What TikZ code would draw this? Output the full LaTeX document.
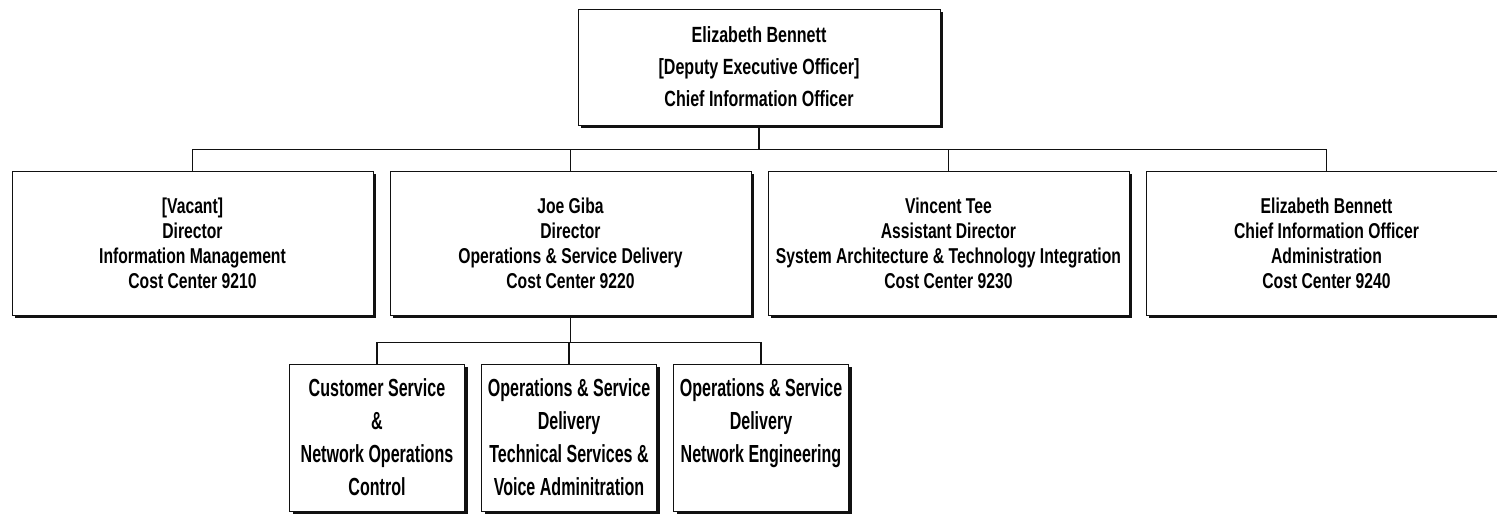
\documentclass[tikz,border=0pt]{standalone}
\usepackage{fontspec}
\setmainfont{Liberation Sans}[FakeStretch=0.65]
\newfontfamily\headfont{Liberation Sans}[FakeStretch=0.73]
\usepackage{tikz}
\usetikzlibrary{positioning,shadows}
\definecolor{ink}  {HTML}{111111}
\definecolor{paper}{HTML}{FFFFFF}

\begin{document}
\begin{tikzpicture}[x=1pt,y=1pt,
    unit/.style={draw=ink,line width=1pt,fill=paper,align=center,inner sep=2pt,
      drop shadow={shadow xshift=3pt,shadow yshift=-3pt,fill=ink,opacity=1}},
    chief/.style={unit,minimum width=362pt,minimum height=116pt,
      font=\headfont\bfseries\fontsize{22}{32}\selectfont},
    dept/.style={unit,minimum width=361pt,minimum height=144pt,
      font=\headfont\bfseries\fontsize{21.5}{25}\selectfont},
    team/.style={unit,minimum width=175pt,minimum height=147pt,
      font=\bfseries\fontsize{24.7}{33}\selectfont},
    link/.style={draw=ink,line width=1.5pt}]
  \useasboundingbox (0,0) rectangle (1497,-514);

  % top of the chart
  \node[chief] (cio) at (759,-67)
    {Elizabeth Bennett\\{[}Deputy Executive Officer{]}\\Chief Information Officer};

  % cost centers
  \node[dept] (im) at (192.5,-243)
    {{[}Vacant{]}\\Director\\Information Management\\Cost Center 9210};
  \node[dept,right=16pt of im] (osd)
    {Joe Giba\\Director\\Operations \& Service Delivery\\Cost Center 9220};
  \node[dept,right=16pt of osd] (sati)
    {Vincent Tee\\Assistant Director\\System Architecture \& Technology Integration\\Cost Center 9230};
  \node[dept,right=16pt of sati] (adm)
    {Elizabeth Bennett\\Chief Information Officer\\Administration\\Cost Center 9240};

  % units under operations
  \node[team] (noc) at (377,-437.5)
    {Customer Service\\\&\\Network Operations\\Control};
  \node[team,right=16pt of noc] (tsv)
    {Operations \& Service\\Delivery\\Technical Services \&\\Voice Adminitration};
  \node[team,right=16pt of tsv] (neng)
    {Operations \& Service\\Delivery\\Network Engineering\\\phantom{C}};

  \foreach \n in {im,osd,sati,adm}
    \draw[link] (cio.south) -- ++(0,-24) -| (\n.north);
  \foreach \n in {noc,tsv,neng}
    \draw[link] (osd.south) -- ++(0,-27) -| (\n.north);
\end{tikzpicture}
\end{document}
